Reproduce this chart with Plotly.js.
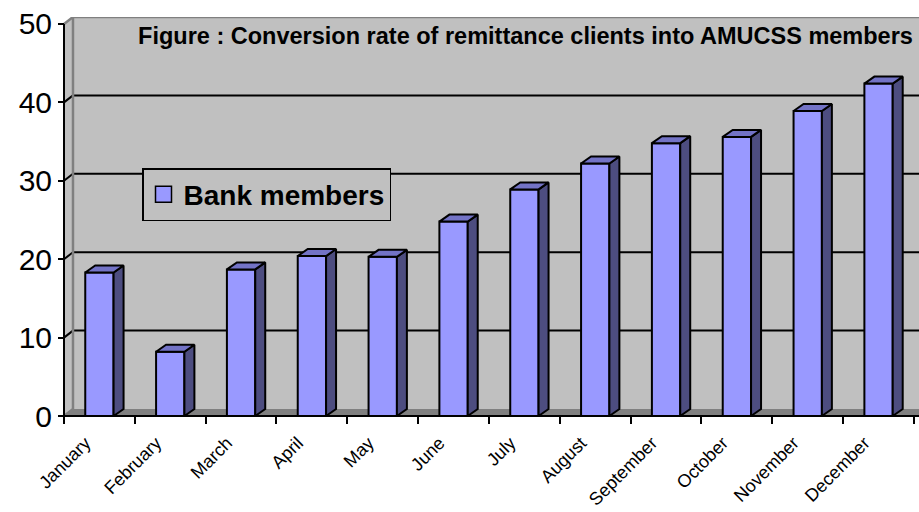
<!DOCTYPE html>
<html>
<head>
<meta charset="utf-8">
<script src="https://cdn.plot.ly/plotly-3.0.1.min.js"></script>
<style>html,body{margin:0;padding:0;background:#fff;}#chart{width:919px;height:512px;}</style>
</head>
<body>
<div id="chart"></div>
<script>
// ---- data ----
const months = ["January","February","March","April","May","June","July","August","September","October","November","December"];
const bankMembers = [18.3, 8.2, 18.7, 20.4, 20.3, 24.8, 28.9, 32.2, 34.8, 35.6, 38.9, 42.4];
const yTicks = [0, 10, 20, 30, 40, 50];
const seriesName = "Bank members";
const titleText = "Figure : Conversion rate of remittance clients into AMUCSS members";

// ---- style / 3D depth (in axis units) ----
const DX = 0.141, DY = 0.893, BW = 0.4;
const XMIN = -0.5565, XMAX = 11.571, YMIN = -0.51, YMAX = 50.89;
const FRONT = '#9999FF', TOP = '#7373C6', SIDE = '#4D4D80';
const WALL = '#C0C0C0', EDGE = '#808080';
const FONT = 'Liberation Sans, Arial, sans-serif';

const idx = months.map((m, i) => i);

// side and top faces built from the data values
const sx = [], sy = [], tx = [], ty = [];
bankMembers.forEach((v, i) => {
  const r = i + BW / 2, l = i - BW / 2;
  sx.push(r, r + DX, r + DX, r, r, null);
  sy.push(0, DY, v + DY, v, 0, null);
  tx.push(l, r, r + DX, l + DX, l, null);
  ty.push(v, v, v + DY, v + DY, v, null);
});

const traces = [
  {type: 'bar', x: idx, y: bankMembers, width: BW, name: seriesName, showlegend: false,
   marker: {color: FRONT, line: {color: '#000', width: 2}}, hoverinfo: 'skip'},
  {type: 'scatter', mode: 'lines', x: sx, y: sy, fill: 'toself', fillcolor: SIDE,
   line: {color: '#000', width: 2}, showlegend: false, hoverinfo: 'skip'},
  {type: 'scatter', mode: 'lines', x: tx, y: ty, fill: 'toself', fillcolor: TOP,
   line: {color: '#000', width: 2}, showlegend: false, hoverinfo: 'skip'},
  {type: 'scatter', mode: 'markers', x: [null], y: [null], name: seriesName,
   marker: {symbol: 'square', size: 16, color: FRONT, line: {color: '#000', width: 1.5}}}
];

const xl = -0.5, xb = -0.5 + DX * 0.9;
const shapes = [];
// back wall
shapes.push({type: 'path', layer: 'below', xref: 'x', yref: 'y',
  path: `M${xb},${DY} L${XMAX + 1},${DY} L${XMAX + 1},${50 + DY} L${xb},${50 + DY} Z`,
  fillcolor: WALL, line: {width: 0}});
// left wall
shapes.push({type: 'path', layer: 'below', xref: 'x', yref: 'y',
  path: `M${xl},0 L${xb},${DY} L${xb},${50 + DY} L${xl},50 Z`,
  fillcolor: WALL, line: {width: 0}});
// floor
shapes.push({type: 'path', layer: 'below', xref: 'x', yref: 'y',
  path: `M${xl},0 L${XMAX + 1},0 L${XMAX + 1},${DY} L${xb},${DY} Z`,
  fillcolor: EDGE, line: {width: 0}});
// gridlines on back wall + left wall
yTicks.forEach(v => {
  if (v > 0 && v < 50) {
    shapes.push({type: 'line', layer: 'below', xref: 'x', yref: 'y', x0: xb, x1: XMAX + 1, y0: v + DY, y1: v + DY, line: {color: '#000', width: 2}});
    shapes.push({type: 'line', layer: 'below', xref: 'x', yref: 'y', x0: xl, x1: xb, y0: v, y1: v + DY, line: {color: '#000', width: 2}});
  }
});
// wall edges
shapes.push({type: 'path', layer: 'below', xref: 'x', yref: 'y',
  path: `M${xl},50 L${xb},${50 + DY} L${XMAX + 1},${50 + DY}`, line: {color: EDGE, width: 2.5}});
shapes.push({type: 'path', layer: 'below', xref: 'x', yref: 'y',
  path: `M${xl},0 L${xb},${DY} L${xb},${50 + DY}`, line: {color: EDGE, width: 2.5}});
// axis lines
shapes.push({type: 'line', layer: 'below', xref: 'x', yref: 'y', x0: xl, x1: xl, y0: 0, y1: 50, line: {color: '#000', width: 2}});
shapes.push({type: 'line', layer: 'above', xref: 'x', yref: 'y', x0: xl, x1: XMAX + 1, y0: 0, y1: 0, line: {color: '#000', width: 2}});

const bounds = idx.concat([12]).map(i => i - 0.5);

const layout = {
  width: 919, height: 512,
  margin: {l: 60, r: 0, t: 17, b: 92},
  paper_bgcolor: '#fff', plot_bgcolor: 'rgba(0,0,0,0)',
  font: {family: FONT, color: '#000'},
  title: {text: '<b>' + titleText + '</b>', font: {family: FONT, size: 23.5, color: '#000'},
          x: (525.5 - 60) / 859, xanchor: 'center', xref: 'paper', y: 1 - 36 / 512, yanchor: 'middle'},
  xaxis: {range: [XMIN, XMAX], anchor: 'free', position: 4 / 403, tickvals: idx, ticktext: months,
          tickangle: -45, ticks: '', showgrid: false, zeroline: false, showline: false,
          ticklabelstandoff: 12, ticklabelshift: -14,
          tickfont: {family: FONT, size: 18, color: '#000'}, fixedrange: true},
  xaxis2: {range: [XMIN, XMAX], overlaying: 'x', anchor: 'free', position: 4 / 403, side: 'bottom',
           tickvals: bounds, ticks: 'outside', ticklen: 7, tickwidth: 2, tickcolor: '#000',
           showticklabels: false, showgrid: false, zeroline: false, showline: false},
  yaxis: {range: [YMIN, YMAX], anchor: 'free', position: 4 / 859, tickvals: yTicks,
          ticks: 'outside', ticklen: 6, tickwidth: 2, tickcolor: '#000',
          showgrid: false, zeroline: false, showline: false,
          tickfont: {family: FONT, size: 30, color: '#000'}, fixedrange: true},
  shapes: shapes,
  showlegend: true,
  legend: {x: (142 - 60) / 859, y: (420 - 168) / 403, xanchor: 'left', yanchor: 'top',
           bgcolor: WALL, bordercolor: '#000', borderwidth: 1.5,
           font: {family: FONT, size: 28, color: '#000', weight: 'bold'}},
  bargap: 0
};

// dummy trace on xaxis2 so its ticks are drawn
traces.push({type: 'scatter', x: [null], y: [null], xaxis: 'x2', yaxis: 'y', showlegend: false, hoverinfo: 'skip'});

Plotly.newPlot('chart', traces, layout, {staticPlot: true});
</script>
</body>
</html>
